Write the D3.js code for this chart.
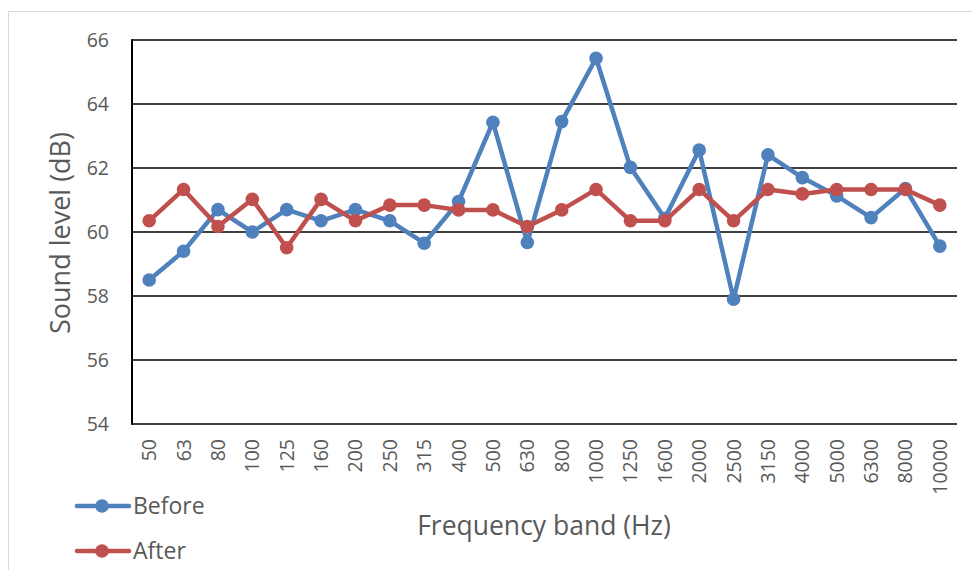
<!DOCTYPE html>
<html>
<head>
<meta charset="utf-8">
<script src="https://cdn.jsdelivr.net/npm/d3@7"></script>
<style>
  body { margin: 0; background: #fff; }
  text { font-family: "Open Sans", sans-serif; fill: #595959; }
</style>
</head>
<body>
<div id="chart"></div>
<script>
// frequency bands (Hz)
const bands = ["50", "63", "80", "100", "125", "160", "200", "250", "315", "400", "500", "630",
  "800", "1000", "1250", "1600", "2000", "2500", "3150", "4000", "5000", "6300", "8000", "10000"];

// sound level (dB)
const before = [58.5, 59.4, 60.7, 60.0, 60.7, 60.35, 60.7, 60.35, 59.65, 60.95, 63.43, 59.67,
  63.45, 65.43, 62.02, 60.43, 62.56, 57.9, 62.41, 61.7, 61.13, 60.45, 61.36, 59.56];
const after = [60.35, 61.33, 60.17, 61.02, 59.51, 61.02, 60.35, 60.84, 60.84, 60.69, 60.69, 60.17,
  60.69, 61.33, 60.35, 60.35, 61.33, 60.35, 61.33, 61.19, 61.33, 61.33, 61.33, 60.84];

const yTicks = [54, 56, 58, 60, 62, 64, 66];

document.addEventListener("DOMContentLoaded", function () {
  const width = 972, height = 570;
  const margin = { top: 40, right: 15, bottom: 146, left: 132 };

  const svg = d3.select("#chart").append("svg")
    .attr("width", width)
    .attr("height", height);

  // 바깥 테두리
  svg.append("rect")
    .attr("x", 8.5).attr("y", 11.5)
    .attr("width", 975).attr("height", 600)
    .attr("fill", "none")
    .attr("stroke", "#d9d9d9")
    .attr("stroke-width", 1);

  const x = d3.scaleBand()
    .domain(bands)
    .range([margin.left, width - margin.right]);

  const y = d3.scaleLinear()
    .domain([54, 66])
    .range([height - margin.bottom, margin.top]);

  // 가로 격자선
  svg.append("g")
    .selectAll("line")
    .data(yTicks)
    .enter().append("line")
    .attr("x1", margin.left).attr("x2", width - margin.right)
    .attr("y1", d => y(d)).attr("y2", d => y(d))
    .attr("stroke", "#000")
    .attr("stroke-width", 1.6);

  // 세로축 선
  svg.append("line")
    .attr("x1", margin.left).attr("x2", margin.left)
    .attr("y1", y(66) - 0.8).attr("y2", y(54) + 0.8)
    .attr("stroke", "#000")
    .attr("stroke-width", 2);

  // y축 눈금 라벨
  svg.append("g")
    .selectAll("text")
    .data(yTicks)
    .enter().append("text")
    .attr("x", 109)
    .attr("y", d => y(d))
    .attr("dy", "0.36em")
    .attr("text-anchor", "end")
    .style("font-size", "19.5px")
    .text(d => d);

  // x축 라벨 (세로로 회전)
  svg.append("g")
    .selectAll("text")
    .data(bands)
    .enter().append("text")
    .attr("transform", d => `translate(${x(d) + x.bandwidth() / 2},${y(54) + 15}) rotate(-90)`)
    .attr("dy", "0.36em")
    .attr("text-anchor", "end")
    .style("font-size", "19.5px")
    .text(d => d);

  // 축 제목
  svg.append("text")
    .attr("transform", "translate(70,233) rotate(-90)")
    .attr("text-anchor", "middle")
    .style("font-size", "27px")
    .text("Sound level (dB)");

  svg.append("text")
    .attr("x", 544).attr("y", 535)
    .attr("text-anchor", "middle")
    .style("font-size", "26.5px")
    .text("Frequency band (Hz)");

  const series = [
    { name: "Before", values: before, color: "#4f81bd" },
    { name: "After", values: after, color: "#c0504d" }
  ];

  const line = d3.line()
    .x((d, i) => x(bands[i]) + x.bandwidth() / 2)
    .y(d => y(d));

  series.forEach(s => {
    svg.append("path")
      .datum(s.values)
      .attr("d", line)
      .attr("fill", "none")
      .attr("stroke", s.color)
      .attr("stroke-width", 4.5)
      .attr("stroke-linejoin", "round");

    svg.append("g")
      .selectAll("circle")
      .data(s.values)
      .enter().append("circle")
      .attr("cx", (d, i) => x(bands[i]) + x.bandwidth() / 2)
      .attr("cy", d => y(d))
      .attr("r", 6.8)
      .attr("fill", s.color);
  });

  // 범례
  const legend = svg.append("g")
    .selectAll("g")
    .data(series)
    .enter().append("g")
    .attr("transform", (d, i) => `translate(0,${506 + i * 45})`);

  legend.append("line")
    .attr("x1", 77).attr("x2", 129)
    .attr("stroke", d => d.color)
    .attr("stroke-width", 4.5)
    .attr("stroke-linecap", "round");

  legend.append("circle")
    .attr("cx", 102)
    .attr("r", 6.8)
    .attr("fill", d => d.color);

  legend.append("text")
    .attr("x", 133)
    .attr("y", 8)
    .style("font-size", "23px")
    .text(d => d.name);
});
</script>
</body>
</html>
